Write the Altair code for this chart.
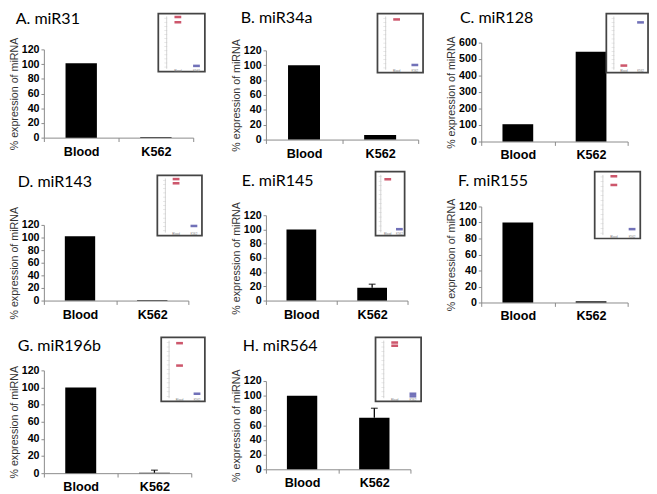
import altair as alt
import pandas as pd

# ---------------- data ----------------
panel_titles = ["A. miR31", "B. miR34a", "C. miR128", "D. miR143",
                "E. miR145", "F. miR155", "G. miR196b", "H. miR564"]
categories = ["Blood", "K562"]
blood_vals = [101, 100, 105, 102, 100, 100, 100, 100]
k562_vals = [0.8, 6, 545, 0.8, 18, 1.5, 0.5, 70]
k562_err_hi = [None, None, None, None, 23, None, 3.5, 83]
y_max = [120, 120, 600, 120, 120, 120, 120, 120]
y_step = [20, 20, 100, 20, 20, 20, 20, 20]

# inset thumbnails (relative position 0..1 inside each inset)
inset_red = [[0.94, 0.85], [0.9], [0.12], [0.94, 0.87], [0.88], [0.93, 0.8], [0.91, 0.56], [0.92, 0.87]]
inset_blue = [[0.1], [0.13], [0.85], [0.16], [0.1], [0.14], [0.12], [0.12, 0.08]]
inset_ticks = [0.08, 0.15, 0.22, 0.29, 0.36, 0.43, 0.5, 0.57, 0.64, 0.71, 0.78, 0.85, 0.92]

# ---------------- layout (pixels) ----------------
plot_w = [154, 157, 151, 149, 146, 151, 152, 149]
plot_h = [91, 92, 102, 78, 88, 99, 106, 91]
title_pos = [(-29, -26), (-26, -28), (-22, -20), (-27, -39), (-25, -30), (-24, -21), (-27, -20), (-24, -31)]
inset_box = [(118, 166, -37, 23), (115, 162, -38, 23), (129, 172, -30, 31), (117, 163, -51, 11),
             (113, 143, -45, 21), (117, 164, -36, 33), (121, 166, -34, 32), (113, 160, -45, 21)]

FONT = "Liberation Sans"


def panel(i):
    W, H = plot_w[i], plot_h[i]
    sz = dict(width=W, height=H)
    df = pd.DataFrame({"cat": categories, "val": [blood_vals[i], k562_vals[i]]})
    xdef = alt.X("cat:N", sort=categories,
                 scale=alt.Scale(paddingInner=0, paddingOuter=0),
                 axis=alt.Axis(title=None, labelAngle=0, tickBand="extent", tickSize=4,
                               labelPadding=4, labelFont=FONT, labelFontSize=13,
                               labelFontWeight="bold", labelColor="black",
                               domainColor="#888", tickColor="#888"))
    ydef = lambda f: alt.Y(f, scale=alt.Scale(domain=[0, y_max[i]], nice=False),
                           title="% expression of miRNA",
                           axis=alt.Axis(values=list(range(0, y_max[i] + 1, y_step[i])),
                                         grid=False, tickSize=3, labelPadding=2,
                                         labelFont=FONT, labelFontSize=11, labelFontWeight="bold",
                                         labelColor="black", domainColor="#888", tickColor="#888",
                                         titleFont=FONT, titleFontSize=11, titleFontWeight="normal",
                                         titleColor="#333", titlePadding=2))
    bars = alt.Chart(df).mark_bar(color="black", width={"band": 0.42}).encode(
        x=xdef, y=ydef("val:Q")).properties(**sz)
    layers = [bars]
    if k562_err_hi[i] is not None:
        edf = pd.DataFrame({"cat": ["K562"], "val": [k562_vals[i]], "hi": [k562_err_hi[i]]})
        rule = alt.Chart(edf).mark_rule(color="black", strokeWidth=1.3).encode(
            x=xdef, y=ydef("val:Q"), y2="hi:Q").properties(**sz)
        cap = alt.Chart(edf).mark_tick(color="black", size=7, thickness=1.3).encode(
            x=xdef, y=ydef("hi:Q")).properties(**sz)
        layers += [rule, cap]
    tdf = pd.DataFrame({"t": [panel_titles[i]]})
    title = alt.Chart(tdf).mark_text(align="left", baseline="alphabetic", font="Lato",
                                     fontSize=16.5, color="black").encode(
        x=alt.value(title_pos[i][0]), y=alt.value(title_pos[i][1]), text="t:N").properties(**sz)
    layers.append(title)
    main = alt.layer(*layers).properties(**sz)

    x0, x1, yt, yb = inset_box[i]
    xs = alt.Scale(domain=[0, 1], range=[x0, x1])
    ys = alt.Scale(domain=[0, 1], range=[yb, yt])
    box = alt.Chart(pd.DataFrame({"a": [0], "b": [1], "c": [0], "d": [1]})).mark_rect(
        fill="white", stroke="#444", strokeWidth=1.8).encode(
        x=alt.X("a:Q", scale=xs, axis=None), x2="b:Q",
        y=alt.Y("c:Q", scale=ys, axis=None), y2="d:Q").properties(**sz)
    ax = alt.Chart(pd.DataFrame({"a": [0.18], "c": [0.05], "d": [0.95]})).mark_rule(
        color="#c8c8c8", strokeWidth=0.8).encode(
        x=alt.X("a:Q", scale=xs, axis=None), y=alt.Y("c:Q", scale=ys, axis=None),
        y2="d:Q").properties(**sz)
    tk = alt.Chart(pd.DataFrame({"a": [0.16] * len(inset_ticks), "c": inset_ticks})).mark_tick(
        orient="horizontal", color="#c8c8c8", size=3, thickness=0.6).encode(
        x=alt.X("a:Q", scale=xs, axis=None), y=alt.Y("c:Q", scale=ys, axis=None)).properties(**sz)
    pts = pd.DataFrame({
        "a": [0.42] * len(inset_red[i]) + [0.82] * len(inset_blue[i]),
        "c": inset_red[i] + inset_blue[i],
        "g": ["Blood"] * len(inset_red[i]) + ["K562"] * len(inset_blue[i]),
    })
    dots = alt.Chart(pts).mark_tick(orient="horizontal", size=7, thickness=2.6).encode(
        x=alt.X("a:Q", scale=xs, axis=None), y=alt.Y("c:Q", scale=ys, axis=None),
        color=alt.Color("g:N", scale=alt.Scale(domain=categories, range=["#b8102e", "#34349a"]),
                        legend=None)).properties(**sz)
    lab = alt.Chart(pd.DataFrame({"a": [0.42, 0.82], "c": [0.02, 0.02], "t": categories})).mark_text(
        fontSize=3, color="#777", font=FONT).encode(
        x=alt.X("a:Q", scale=xs, axis=None), y=alt.Y("c:Q", scale=ys, axis=None),
        text="t:N").properties(**sz)
    ins = alt.layer(box, ax, tk, dots, lab).properties(**sz)

    return alt.layer(main, ins).resolve_scale(x="independent", y="independent").properties(**sz)


def spacer(h):
    return alt.Chart(pd.DataFrame({"s": [0]})).mark_point(opacity=0).encode(
        x=alt.value(0), y=alt.value(0)).properties(width=1, height=h)


P = [panel(i) for i in range(8)]

col1 = alt.vconcat(spacer(7), P[0], spacer(90), P[3], spacer(72), P[6], spacing=0, bounds="flush")
col2 = alt.vconcat(spacer(8), P[1], spacer(78), P[4], spacer(83), P[7], spacing=0, bounds="flush")
col3 = alt.vconcat(P[2], spacer(67), P[5], spacing=0, bounds="flush")

chart = alt.hconcat(col1, alt.hconcat(col2, col3, spacing=22), spacing=25).configure_view(
    stroke=None).properties(padding={"top": -5, "left": 0, "right": 0, "bottom": 0})

chart.save("out.html", embed_options={"renderer": "svg", "actions": False})
